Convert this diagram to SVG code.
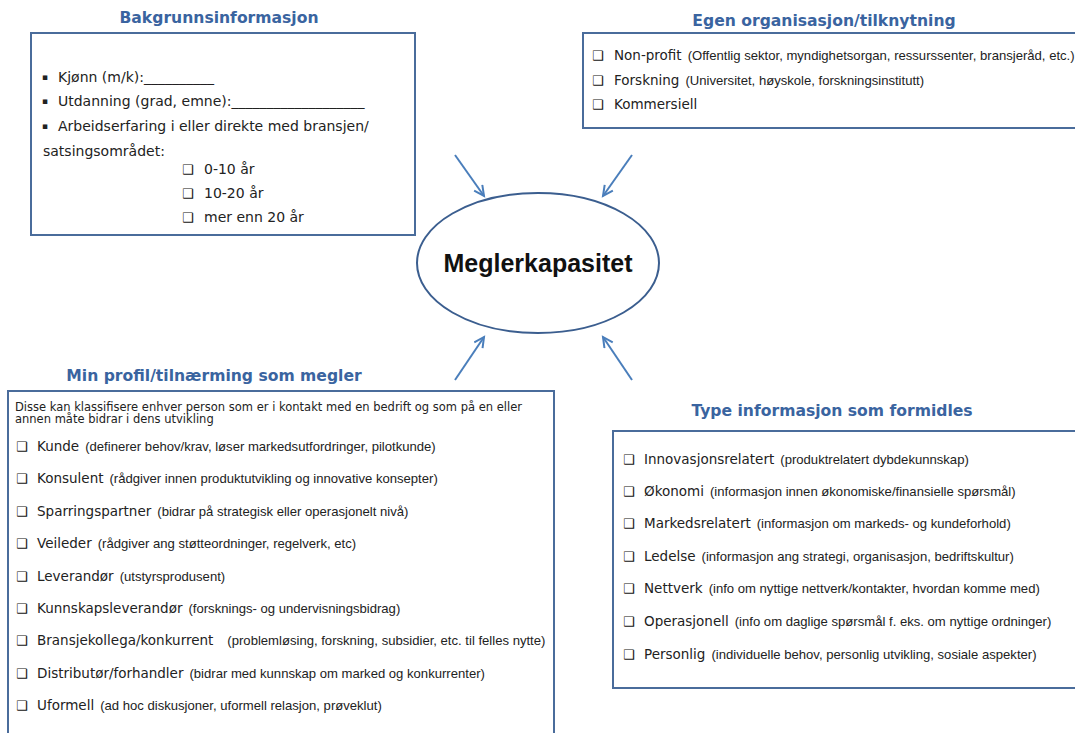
<svg xmlns="http://www.w3.org/2000/svg" width="1075" height="733" viewBox="0 0 1075 733">
<style>
.box{fill:#fff;stroke:#4a6c9b;stroke-width:2}
.ttl{font-family:"DejaVu Sans",Verdana,sans-serif;font-weight:bold;font-size:15.6px;fill:#3a64a0;text-anchor:middle}
.b14{font-family:"DejaVu Sans",Verdana,sans-serif;font-size:14px;fill:#222}
.bul{font-family:"DejaVu Sans",sans-serif;font-size:9px;fill:#222}
.l{font-family:"DejaVu Sans",Verdana,sans-serif;font-size:13.5px;fill:#222}
.p{font-family:"Liberation Sans",Arial,sans-serif;font-size:13.1px;fill:#222}
.cb{font-family:"DejaVu Sans",sans-serif;font-size:13px;font-weight:bold;fill:#111}
.intro{font-family:"DejaVu Sans",Verdana,sans-serif;font-size:11.5px;fill:#222}
.arr{stroke:#4a7ebb;stroke-width:2;fill:none;marker-end:url(#ah)}
</style>
<defs>
<marker id="ah" markerUnits="userSpaceOnUse" markerWidth="14" markerHeight="14" refX="11" refY="6" orient="auto">
<path d="M1,1 L11,6 L1,11" fill="none" stroke="#4a7ebb" stroke-width="2"/>
</marker>
</defs>
<rect width="1075" height="733" fill="#fff"/>

<g id="connectors">
<line class="arr" x1="455" y1="155" x2="484" y2="196"/>
<line class="arr" x1="632" y1="155" x2="603" y2="196"/>
<line class="arr" x1="455" y1="380" x2="484" y2="337"/>
<line class="arr" x1="632" y1="380" x2="603" y2="337"/>
</g>

<g id="bakgrunn">
<text class="ttl" x="219" y="23">Bakgrunnsinformasjon</text>
<rect class="box" x="31" y="33" width="384" height="202"/>
<text class="bul" x="42" y="80">▪</text><text class="b14" x="58" y="82">Kjønn (m/k):__________</text>
<text class="bul" x="42" y="104">▪</text><text class="b14" x="58" y="106">Utdanning (grad, emne):___________________</text>
<text class="bul" x="42" y="129">▪</text><text class="b14" x="58" y="131">Arbeidserfaring i eller direkte med bransjen/</text>
<text class="b14" x="43" y="156">satsingsområdet:</text>
<text class="cb" x="182" y="174">❑</text><text class="b14" x="204" y="174">0-10 år</text>
<text class="cb" x="182" y="198">❑</text><text class="b14" x="204" y="198">10-20 år</text>
<text class="cb" x="182" y="222">❑</text><text class="b14" x="204" y="222">mer enn 20 år</text>
</g>

<g id="egen">
<text class="ttl" x="824" y="26">Egen organisasjon/tilknytning</text>
<rect class="box" x="583" y="33" width="500" height="95"/>
<text class="cb" x="592" y="60">❑</text><text x="614" y="60"><tspan class="l">Non-profit</tspan><tspan class="p" dx="6">(Offentlig sektor, myndighetsorgan, ressurssenter, bransjeråd, etc.)</tspan></text>
<text class="cb" x="592" y="85">❑</text><text x="614" y="85"><tspan class="l">Forskning</tspan><tspan class="p" dx="6">(Universitet, høyskole, forskningsinstitutt)</tspan></text>
<text class="cb" x="592" y="109">❑</text><text x="614" y="109"><tspan class="l">Kommersiell</tspan></text>
</g>

<g id="meglerkapasitet">
<ellipse cx="538" cy="263" rx="121" ry="70" fill="#fff" stroke="#3b5e8f" stroke-width="2"/>
<text x="538" y="272" text-anchor="middle" font-family="Liberation Sans,Arial,sans-serif" font-weight="bold" font-size="25px" fill="#111">Meglerkapasitet</text>
</g>

<g id="minprofil">
<text class="ttl" x="214" y="381">Min profil/tilnærming som megler</text>
<rect class="box" x="8" y="391" width="546" height="360"/>
<text class="intro" x="15" y="411">Disse kan klassifisere enhver person som er i kontakt med en bedrift og som på en eller</text>
<text class="intro" x="15" y="423">annen måte bidrar i dens utvikling</text>
<text class="cb" x="16" y="451">❑</text><text x="37" y="451"><tspan class="l">Kunde</tspan><tspan class="p" dx="6">(definerer behov/krav, løser markedsutfordringer, pilotkunde)</tspan></text>
<text class="cb" x="16" y="483">❑</text><text x="37" y="483"><tspan class="l">Konsulent</tspan><tspan class="p" dx="6">(rådgiver innen produktutvikling og innovative konsepter)</tspan></text>
<text class="cb" x="16" y="516">❑</text><text x="37" y="516"><tspan class="l">Sparringspartner</tspan><tspan class="p" dx="6">(bidrar på strategisk eller operasjonelt nivå)</tspan></text>
<text class="cb" x="16" y="548">❑</text><text x="37" y="548"><tspan class="l">Veileder</tspan><tspan class="p" dx="6">(rådgiver ang støtteordninger, regelverk, etc)</tspan></text>
<text class="cb" x="16" y="581">❑</text><text x="37" y="581"><tspan class="l">Leverandør</tspan><tspan class="p" dx="6">(utstyrsprodusent)</tspan></text>
<text class="cb" x="16" y="613">❑</text><text x="37" y="613"><tspan class="l">Kunnskapsleverandør</tspan><tspan class="p" dx="6">(forsknings- og undervisningsbidrag)</tspan></text>
<text class="cb" x="16" y="645">❑</text><text x="37" y="645"><tspan class="l">Bransjekollega/konkurrent</tspan><tspan class="p" dx="14">(problemløsing, forskning, subsidier, etc. til felles nytte)</tspan></text>
<text class="cb" x="16" y="678">❑</text><text x="37" y="678"><tspan class="l">Distributør/forhandler</tspan><tspan class="p" dx="6">(bidrar med kunnskap om marked og konkurrenter)</tspan></text>
<text class="cb" x="16" y="710">❑</text><text x="37" y="710"><tspan class="l">Uformell</tspan><tspan class="p" dx="6">(ad hoc diskusjoner, uformell relasjon, prøveklut)</tspan></text>
</g>

<g id="type">
<text class="ttl" x="832" y="416">Type informasjon som formidles</text>
<rect class="box" x="613" y="431" width="470" height="257"/>
<text class="cb" x="623" y="464">❑</text><text x="644" y="464"><tspan class="l">Innovasjonsrelatert</tspan><tspan class="p" dx="6">(produktrelatert dybdekunnskap)</tspan></text>
<text class="cb" x="623" y="496">❑</text><text x="644" y="496"><tspan class="l">Økonomi</tspan><tspan class="p" dx="6">(informasjon innen økonomiske/finansielle spørsmål)</tspan></text>
<text class="cb" x="623" y="528">❑</text><text x="644" y="528"><tspan class="l">Markedsrelatert</tspan><tspan class="p" dx="6">(informasjon om markeds- og kundeforhold)</tspan></text>
<text class="cb" x="623" y="561">❑</text><text x="644" y="561"><tspan class="l">Ledelse</tspan><tspan class="p" dx="6">(informasjon ang strategi, organisasjon, bedriftskultur)</tspan></text>
<text class="cb" x="623" y="593">❑</text><text x="644" y="593"><tspan class="l">Nettverk</tspan><tspan class="p" dx="6">(info om nyttige nettverk/kontakter, hvordan komme med)</tspan></text>
<text class="cb" x="623" y="626">❑</text><text x="644" y="626"><tspan class="l">Operasjonell</tspan><tspan class="p" dx="6">(info om daglige spørsmål f. eks. om nyttige ordninger)</tspan></text>
<text class="cb" x="623" y="659">❑</text><text x="644" y="659"><tspan class="l">Personlig</tspan><tspan class="p" dx="6">(individuelle behov, personlig utvikling, sosiale aspekter)</tspan></text>
</g>
</svg>
